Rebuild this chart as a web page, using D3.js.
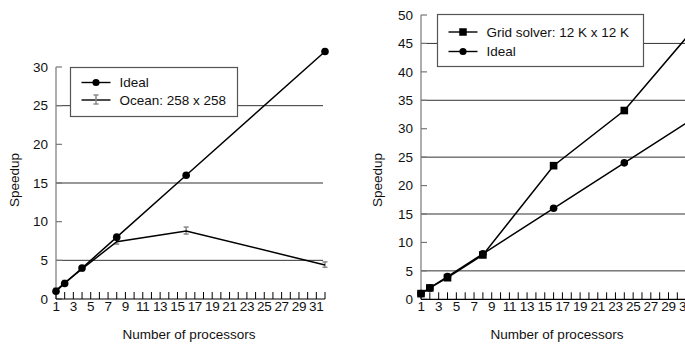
<!DOCTYPE html>
<html>
<head>
<meta charset="utf-8">
<script src="https://cdn.jsdelivr.net/npm/d3@7"></script>
<style>
  body { margin: 0; background: #fff; }
  svg { display: block; font-family: "Liberation Sans", Arial, sans-serif; }
</style>
</head>
<body>
<div id="chart"></div>
<script>
// left panel: Ocean
const oceanProcs = [1, 2, 4, 8, 16, 32];
const oceanIdeal = [1, 2, 4, 8, 16, 32];
const oceanSpeedup = [1.1, 2.1, 3.9, 7.4, 8.8, 4.4];
const oceanErrLow = [0.8, 1.8, 3.6, 7.1, 8.4, 4.1];
const oceanErrHigh = [1.4, 2.4, 4.1, 7.6, 9.3, 4.8];
const oceanYTicks = [0, 5, 10, 15, 20, 25, 30];
const oceanGrid = [5, 15, 25];

// right panel: Grid solver
const gridProcs = [1, 2, 4, 8, 16, 24, 32];
const gridSpeedup = [1, 2, 3.8, 7.8, 23.5, 33.2, 47.8];
const gridIdeal = [1, 2, 4, 8, 16, 24, 32];
const gridYTicks = [0, 5, 10, 15, 20, 25, 30, 35, 40, 45, 50];
const gridLines = [5, 15, 25, 35, 45];

const xTickValues = d3.range(1, 33);
const xTickLabels = d3.range(1, 32, 2);

const W = 685, H = 345;
const svg = d3.select("#chart").append("svg")
  .attr("width", W).attr("height", H)
  .attr("viewBox", [0, 0, W, H]);

function panel({x, y, yTicks, grid, gridEnd, yLabelX, xLabelX}) {
  const g = svg.append("g");

  // horizontal reference lines
  g.selectAll(".grid").data(grid).join("line")
    .attr("x1", x(1)).attr("x2", gridEnd)
    .attr("y1", d => y(d)).attr("y2", d => y(d))
    .attr("stroke", "#333").attr("stroke-width", 1);

  // y axis: grey line, inward ticks
  const yDom = y.domain();
  g.append("line")
    .attr("x1", x(1)).attr("x2", x(1))
    .attr("y1", y(yDom[0])).attr("y2", y(yDom[1]))
    .attr("stroke", "#777").attr("stroke-width", 1.2);
  g.selectAll(".yt").data(yTicks).join("line")
    .attr("x1", x(1)).attr("x2", x(1) + 6)
    .attr("y1", d => y(d)).attr("y2", d => y(d))
    .attr("stroke", "#777").attr("stroke-width", 1.2);
  g.selectAll(".yl").data(yTicks).join("text")
    .attr("x", x(1) - 8).attr("y", d => y(d))
    .attr("dy", "0.35em").attr("text-anchor", "end")
    .attr("font-size", 13.5).attr("fill", "#111")
    .text(d => d);

  // x axis: black line, upward ticks every processor
  g.append("line")
    .attr("x1", x(1)).attr("x2", x(32))
    .attr("y1", y(0)).attr("y2", y(0))
    .attr("stroke", "#000").attr("stroke-width", 1.2);
  g.selectAll(".xt").data(xTickValues).join("line")
    .attr("x1", d => x(d)).attr("x2", d => x(d))
    .attr("y1", y(0)).attr("y2", y(0) - 7)
    .attr("stroke", "#000").attr("stroke-width", 1);
  g.selectAll(".xl").data(xTickLabels).join("text")
    .attr("x", d => x(d)).attr("y", y(0) + 12)
    .attr("text-anchor", "middle")
    .attr("font-size", 13.5).attr("fill", "#111")
    .attr("letter-spacing", "-0.3")
    .text(d => d);

  g.append("text")
    .attr("transform", `translate(${yLabelX},180) rotate(-90)`)
    .attr("text-anchor", "middle").attr("font-size", 13.5).attr("fill", "#111")
    .text("Speedup");
  g.append("text")
    .attr("x", xLabelX).attr("y", 339)
    .attr("text-anchor", "middle").attr("font-size", 13.5).attr("fill", "#111")
    .text("Number of processors");
  return g;
}

function legend(g, {x0, y0, w, h, items}) {
  g.append("rect")
    .attr("x", x0).attr("y", y0).attr("width", w).attr("height", h)
    .attr("fill", "#fff").attr("stroke", "#555").attr("stroke-width", 1.2);
  items.forEach((it, i) => {
    const cy = y0 + it.dy;
    g.append("line")
      .attr("x1", x0 + 11).attr("x2", x0 + 40)
      .attr("y1", cy).attr("y2", cy)
      .attr("stroke", "#000").attr("stroke-width", 1.4);
    it.mark(g, x0 + 25.5, cy);
    g.append("text")
      .attr("x", x0 + 49).attr("y", cy).attr("dy", "0.35em")
      .attr("font-size", 13.5).attr("fill", "#111")
      .text(it.label);
  });
}

const circleMark = (g, cx, cy, r = 3.6) =>
  g.append("circle").attr("cx", cx).attr("cy", cy).attr("r", r).attr("fill", "#000");
const squareMark = (g, cx, cy, s = 7.5) =>
  g.append("rect").attr("x", cx - s / 2).attr("y", cy - s / 2)
    .attr("width", s).attr("height", s).attr("fill", "#000");
const errMark = (g, cx, cy) => {
  g.append("line").attr("x1", cx).attr("x2", cx).attr("y1", cy - 5).attr("y2", cy + 4)
    .attr("stroke", "#888").attr("stroke-width", 1.5);
  g.append("line").attr("x1", cx - 2.5).attr("x2", cx + 2.5).attr("y1", cy - 5).attr("y2", cy - 5)
    .attr("stroke", "#888").attr("stroke-width", 1.5);
  g.append("line").attr("x1", cx - 2.5).attr("x2", cx + 2.5).attr("y1", cy + 4).attr("y2", cy + 4)
    .attr("stroke", "#888").attr("stroke-width", 1.5);
};

// ---- left chart
const xL = d3.scaleLinear().domain([1, 32]).range([56, 325]);
const yL = d3.scaleLinear().domain([0, 30]).range([299, 67]);
const gL = panel({x: xL, y: yL, yTicks: oceanYTicks, grid: oceanGrid, gridEnd: 323,
  yLabelX: 19, xLabelX: 189});

const line = (x, y) => d3.line().x(d => x(d[0])).y(d => y(d[1]));

// ocean error bars
const oceanErr = oceanProcs.map((p, i) => [p, oceanErrLow[i], oceanErrHigh[i]]);
const eb = gL.append("g").attr("stroke", "#888").attr("stroke-width", 1.5);
eb.selectAll(".v").data(oceanErr).join("line")
  .attr("x1", d => xL(d[0])).attr("x2", d => xL(d[0]))
  .attr("y1", d => yL(d[1])).attr("y2", d => yL(d[2]));
eb.selectAll(".t").data(oceanErr).join("line")
  .attr("x1", d => xL(d[0]) - 2.5).attr("x2", d => xL(d[0]) + 2.5)
  .attr("y1", d => yL(d[2])).attr("y2", d => yL(d[2]));
eb.selectAll(".b").data(oceanErr).join("line")
  .attr("x1", d => xL(d[0]) - 2.5).attr("x2", d => xL(d[0]) + 2.5)
  .attr("y1", d => yL(d[1])).attr("y2", d => yL(d[1]));

gL.append("path")
  .datum(oceanProcs.map((p, i) => [p, oceanSpeedup[i]]))
  .attr("d", line(xL, yL)).attr("fill", "none")
  .attr("stroke", "#000").attr("stroke-width", 1.5);
gL.append("path")
  .datum(oceanProcs.map((p, i) => [p, oceanIdeal[i]]))
  .attr("d", line(xL, yL)).attr("fill", "none")
  .attr("stroke", "#000").attr("stroke-width", 1.5);
gL.selectAll(".ic").data(oceanProcs.map((p, i) => [p, oceanIdeal[i]])).join("circle")
  .attr("cx", d => xL(d[0])).attr("cy", d => yL(d[1])).attr("r", 3.8).attr("fill", "#000");

legend(gL, {x0: 70.5, y0: 67.5, w: 167, h: 49, items: [
  {label: "Ideal", dy: 15, mark: (g, cx, cy) => circleMark(g, cx, cy)},
  {label: "Ocean: 258 x 258", dy: 32.5, mark: errMark}
]});

// ---- right chart
const xR = d3.scaleLinear().domain([1, 29]).range([421, 668.5]);
const yR = d3.scaleLinear().domain([0, 50]).range([299.3, 15]);
const gR = panel({x: xR, y: yR, yTicks: gridYTicks, grid: gridLines, gridEnd: 685,
  yLabelX: 382, xLabelX: 557});

gR.append("path")
  .datum(gridProcs.map((p, i) => [p, gridIdeal[i]]))
  .attr("d", line(xR, yR)).attr("fill", "none")
  .attr("stroke", "#000").attr("stroke-width", 1.5);
gR.append("path")
  .datum(gridProcs.map((p, i) => [p, gridSpeedup[i]]))
  .attr("d", line(xR, yR)).attr("fill", "none")
  .attr("stroke", "#000").attr("stroke-width", 1.5);
gR.selectAll(".ic").data(gridProcs.map((p, i) => [p, gridIdeal[i]])).join("circle")
  .attr("cx", d => xR(d[0])).attr("cy", d => yR(d[1])).attr("r", 3.8).attr("fill", "#000");
gR.selectAll(".sq").data(gridProcs.map((p, i) => [p, gridSpeedup[i]])).join("rect")
  .attr("x", d => xR(d[0]) - 3.8).attr("y", d => yR(d[1]) - 3.8)
  .attr("width", 7.6).attr("height", 7.6).attr("fill", "#000");

legend(gR, {x0: 437.5, y0: 14.5, w: 206, h: 52, items: [
  {label: "Grid solver: 12 K x 12 K", dy: 17.5, mark: (g, cx, cy) => squareMark(g, cx, cy)},
  {label: "Ideal", dy: 37, mark: (g, cx, cy) => circleMark(g, cx, cy)}
]});
</script>
</body>
</html>
